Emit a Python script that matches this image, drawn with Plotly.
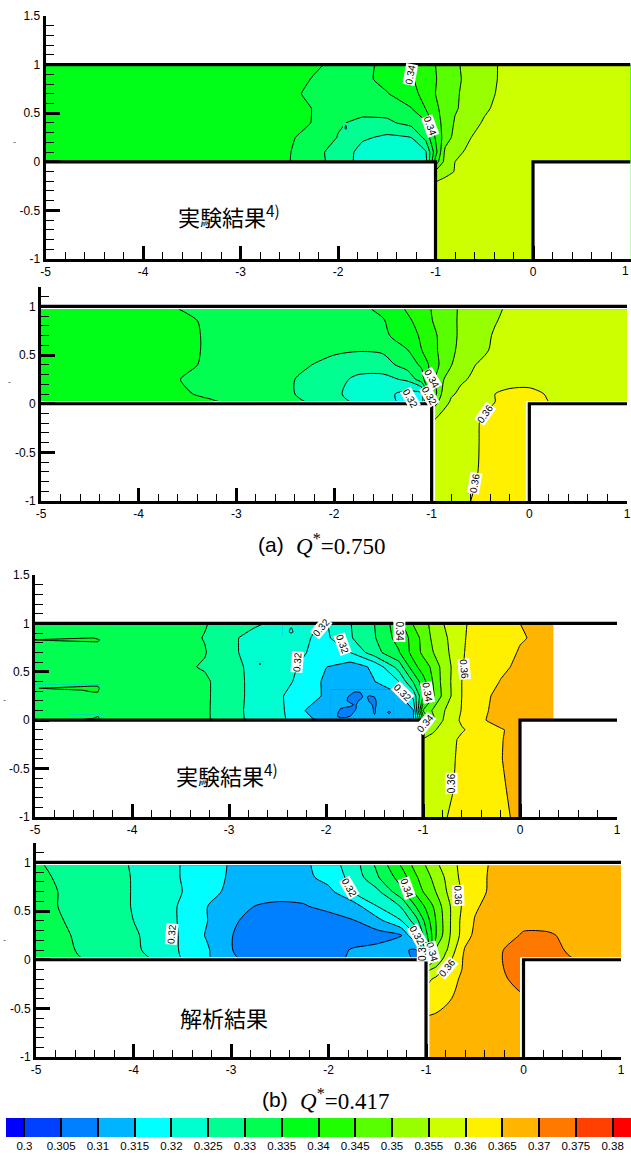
import plotly.graph_objects as go

W, H = 631, 1156

xs = [-5,-4,-3.75,-3.5,-3.25,-3,-2.75,-2.5,-2.25,-2,-1.75,-1.5,-1.25,-1.1,-1,-0.9,-0.8,-0.7,-0.6,-0.5,-0.35,-0.2,0,0.25,0.5,1]
ys = [1,0.85,0.7,0.55,0.4,0.25,0.1,0,-0.1,-0.2,-0.4,-0.7,-1]
ys_gap = [0.97,0.85,0.7,0.55,0.4,0.25,0.1,0.02,-0.1,-0.2,-0.4,-0.7,-1]

# values in thousandths of the plotted quantity
panel_a_exp = [
 [337,337,337,337,337,337,337,337,336,333.5,334,336,339.5,341.5,345,347,349,351,352,353,355.2,357,357.5,357.5,357.5,357.5],
 [337,337,337,337,337,337,337,337.5,334.6,334,333.8,336.5,339.5,342,344.8,346.5,348.7,350.7,352,353.3,355.2,357,357.5,357.5,357.5,357.5],
 [337,337,337,337,337,337,337,336.5,333.5,333.5,333.5,334.7,338,342,345,346.8,349.2,351,352.2,353.5,355.5,357,357.5,357.5,357.5,357.5],
 [337,337,337,337,337,337,337,337,334.8,332.5,331.5,332,334.8,340.2,344.2,346.6,349.5,351,352.2,354.3,356,357,357.5,357.5,357.5,357.5],
 [337,337,337,337,337,337,337,336.5,334.8,330.5,329,329,331.5,334.3,342.8,346.8,350.5,352,354,355.5,356.5,357,357.5,357.5,357.5,357.5],
 [337,337,337,337,337,337,336.5,335.5,333.5,329.8,325.8,324,325,331.5,340.5,347.5,351.5,354,355.5,356,356.5,357,357.5,357.5,357.5,357.5],
 [337,337,337,337,337,337,336.5,335.3,331,328.8,323,322.5,323,324.5,338,351.3,354,355.2,356,356.5,356.5,357,357.5,357.5,357.5,357.5],
 [337,337,337,337,337,337,336.5,335.2,331.5,328.5,323,322,322.5,323.5,342,352,355,355.5,356,356.5,356.5,357,357.5,357.5,357.5,357.5],
 [351,351,351,351,351,351,351,351,351,351,351,351,351,351,351,353.5,355.2,356,356.5,356.5,357,357,357.5,357.5,357.5,357.5],
 [354.8,354.8,354.8,354.8,354.8,354.8,354.8,354.8,354.8,354.8,354.8,354.8,354.8,354.8,354.8,356,356.5,357,357,357,357,357,357.5,357.5,357.5,357.5],
 [357,357,357,357,357,357,357,357,357,357,357,357,357,357,357,357,357,357,357,357,357,357,357,357,357,357],
 [357,357,357,357,357,357,357,357,357,357,357,357,357,357,357,357,357,357,357,357,357,357,357,357,357,357],
 [357,357,357,357,357,357,357,357,357,357,357,357,357,357,357,357,357,357,357,357,357,357,357,357,357,357],
]

panel_a_sim = [
 [338,336,335.6,334.7,334,334,333.5,333.5,333.5,333.5,333.8,336,340.5,342.5,345.2,347,349,350.6,352,353,354.4,355.6,356.5,357,357,357],
 [338,336.5,336,335.5,334.3,334,333.5,333.5,333.5,333.3,333.8,334.6,339,342,344.8,346.9,349,350.7,352,353.2,354.8,356,356.8,357,357,357],
 [338,337,336.5,335.8,334.3,334,333.5,333.5,333.3,333,333.2,334,337.5,340.8,344,345.8,348.8,350.8,352.2,353.8,355.4,356.5,357,357,357,357],
 [338,337,336.5,335.8,334.3,334,333.5,333,332.3,331,330.3,330.8,334.8,340,343.5,346,349.2,351,352.5,354,355.8,356.6,357,357,357,357],
 [338,337,336.5,335.5,334.3,334,333.5,332.5,330.2,328,327,327.5,332.5,335.8,342,346,349.8,352,354.5,355.5,356.2,356.8,357,357,357,357],
 [338,337,336,334.6,334.4,334,333.5,331,328.5,326.5,324,323.5,325.8,333,343,349,353,354.5,355.3,356,356.3,357.5,358,357.5,357,357],
 [338,337,336,335.2,334.3,334,333.5,331,328.5,326,323,321.5,318.5,318.5,340,350,354.5,355.8,357,358,360,361.5,361.5,359,358,357],
 [338,337,336.5,336,335.3,334.3,333.8,332.5,329.5,327,324,322,318.5,318.5,346,352,355.6,356.5,357.5,358.8,360,361,361.5,359.6,358,357],
 [352,352,352,352,352,352,352,352,352,352,352,352,352,352,352,355.3,356.5,357.3,358.4,359.7,361,361.5,361.5,361.5,361.5,361.5],
 [355.5,355.5,355.5,355.5,355.5,355.5,355.5,355.5,355.5,355.5,355.5,355.5,355.5,355.5,355.5,356.5,357,357.8,358.5,360.2,361,361.5,361.5,361.5,361.5,361.5],
 [357,357,357,357,357,357,357,357,357,357,357,357,357,357,357,357,357.5,358,358.8,360.2,361,361.5,361.5,361.5,361.5,361.5],
 [357,357,357,357,357,357,357,357,357,357,357,357,357,357,357,357,357.5,358,358.9,360.4,361,361.5,361.5,361.5,361.5,361.5],
 [357,357,357,357,357,357,357,357,357,357,357,357,357,357,357,357,357.5,358.5,360,360.7,361,361.5,361.5,361.5,361.5,361.5],
]

panel_b_exp = [
 [333,332.5,332.5,331.5,330.3,328,325.8,324,321,319.6,324.8,330,338,345.5,348.7,351,354.7,357,359.2,360.7,362,363.5,365,366,366,366],
 [333,332.5,332.5,331.5,329.8,326,323.5,322,320.6,319,324.5,329.6,337,341.5,347,350.8,353.7,356.2,359.3,361,362,363.5,364.6,366,366,366],
 [333,332.5,332.5,331.8,330.3,326,323.5,322,320.5,318,320,328,334.5,342,346,349.8,352.5,356.2,359.6,361,362,363,365.4,366,366,366],
 [333,332.5,332.5,331,329.5,326.8,323.8,322,319.5,315.1,312.5,316,327,338,342.5,346,351.5,355.4,359.8,361,362,364,366,366,366,366],
 [333,332.5,332.5,332,331,326.8,324,322,318.8,314,313.5,314.9,320,330.5,338,345,351.3,355.6,360,361.2,362.8,365.2,367,367,367,367],
 [333,332.5,332.5,332,331,326.8,324,321,317,314.5,312,312,314,321.5,335,344,350.8,355.5,360,361.5,364.5,366,367,367,367,367],
 [333,332.5,332.5,332,331,326.5,324,321.8,315.5,312,312,312,313.5,314.7,345,350.5,354.5,356.5,360.3,361.8,364.7,366.5,367,367,367,367],
 [333,333,332.5,332,331,326.8,324,321.5,317.3,313,312,312,313,314.7,335,348.5,354.8,358,360.8,362,365,367,367.5,367,367,367],
 [350,350,350,350,350,350,350,350,350,350,350,350,350,350,350,354.2,356.5,358,359.5,361,362,364.5,367,367,367,367],
 [355.5,355.5,355.5,355.5,355.5,355.5,355.5,355.5,355.5,355.5,355.5,355.5,355.5,355.5,355.5,356.5,357.5,359,361,362,363.2,364.7,367,367,367,367],
 [356.5,356.5,356.5,356.5,356.5,356.5,356.5,356.5,356.5,356.5,356.5,356.5,356.5,356.5,356.5,357,358,359.5,361,362,363.2,364.8,367,367,367,367],
 [356.5,356.5,356.5,356.5,356.5,356.5,356.5,356.5,356.5,356.5,356.5,356.5,356.5,356.5,356.5,357.5,358.5,359.8,361,362,363,364.2,367,367,367,367],
 [357,357,357,357,357,357,357,357,357,357,357,357,357,357,357,358,359.5,360.5,361,361.7,362.5,364,366,366,366,366],
]

panel_b_sim = [
 [330.5,324.7,323,319.7,317,314.6,313,312.6,314,317.6,322.4,331,340.5,347,350.2,354,356.8,359.7,361.2,362.8,365.2,367,368,368,368,368],
 [331,324.8,323,319.7,317.4,314.3,313,312.5,313.5,317,321.5,329.5,337.5,344.5,348.3,351.8,355.5,359.5,361,363,365.4,367,368,368,368,368],
 [331.5,324.8,323,320,316.8,313.8,312.5,311.5,311.5,313.5,320,323.8,333.8,341.5,346.5,350,354.5,358.6,361,363,365.5,367,368,368,368,368],
 [331.5,324.8,323,319.2,315.1,312.8,309.9,309.3,309.7,311.3,312.5,320,325.5,335.5,341,346.5,352.5,357.5,361.5,364.5,366,367,368,368,368,368],
 [332,325,323,319.2,315.2,310.5,309,308.3,307.5,308,309.7,313.3,320,328,337,345,352,357.8,362.5,365.2,366.5,367.5,368.5,368.5,368,368],
 [332.5,325.5,323.5,319.3,314.6,310.2,307.5,306.5,306.5,306.5,307,308,310,321,333.5,344.5,352.5,357.8,363,366,367,368,370.6,370.5,369,368],
 [333,325.5,324,319.3,315.7,310.2,307.5,306.5,306.5,307.5,310.5,311.5,310.3,309.7,327,350.5,354,360,365.5,367,368.5,370.1,371.5,371,369.5,368],
 [333.5,326,324.5,319.6,315.8,311,307.5,306.5,307,308,311,312.5,311,309.5,336,349,356.5,361.5,366,367,368.5,370.2,372,372,370,368],
 [353.5,353.5,353.5,353.5,353.5,353.5,353.5,353.5,353.5,353.5,353.5,353.5,353.5,353.5,353.5,356.5,360.6,363.5,365.7,366.5,368,370,372,372,372,372],
 [358.5,358.5,358.5,358.5,358.5,358.5,358.5,358.5,358.5,358.5,358.5,358.5,358.5,358.5,358.5,361,362.5,364.6,365.8,366.8,368.2,369.6,371.5,371.5,371.5,371.5],
 [362.8,362.8,362.8,362.8,362.8,362.8,362.8,362.8,362.8,362.8,362.8,362.8,362.8,362.8,362.8,363.5,364.5,365.3,366,366.5,367.5,368.5,369.5,369.5,369.5,369.5],
 [366.5,366.5,366.5,366.5,366.5,366.5,366.5,366.5,366.5,366.5,366.5,366.5,366.5,366.5,366.5,366.5,366.5,366.5,366.5,367,367,367.5,368,368,368,368],
 [367,367,367,367,367,367,367,367,367,367,367,367,367,367,367,367,367,367,367,367,367,367,367,367,367,367],
]

# small local features: (x list, y list, rows in thousandths)
detail_a_bar = ([-1.95,-1.92,-1.89], [0.31,0.34,0.37,0.4],
                [[328,328,328],[328,330.5,328],[328,330.5,328],[328,328,328]])
detail_b_sliver1 = ([-5,-4.4,-4.35,-4.3], [0.79,0.81,0.83,0.85,0.87],
                    [[333,333,333,333],[333,335,335,333],[335.2,336,336,333],[333,335,333,333],[333,333,333,333]])
detail_b_sliver2 = ([-5,-4.96,-4.4,-4.35,-4.32], [0.27,0.29,0.31,0.33,0.35,0.37],
                    [[333,333,333,333,333],[333,333,335,335,333],[333,333,335.5,335.5,333],[333,335,336.5,336.5,333],
                     [333,333,335.2,335,333],[333,333,333,333,333]])
detail_b_sliver3 = ([-4.65,-4.57,-4.35,-4.3], [0,0.02,0.04,0.06],
                    [[333,335,336,333],[333,333,335.5,333],[333,333,335,333],[333,333,333,333]])
detail_b_triangle = ([-2.45,-2.4,-2.36,-2.32,-2.28], [0.88,0.91,0.95,0.98],
                     [[322,322,322,322,322],[322,321,319,321,322],[322,322,319.5,322,322],[322,322,322,322,322]])
detail_b_dot = ([-2.72,-2.68,-2.64], [0.55,0.58,0.61],
                [[323,323,323],[323,325.5,323],[323,323,323]])
detail_b_core = ([-1.95,-1.9,-1.85,-1.8,-1.75,-1.7,-1.65,-1.6,-1.55,-1.5,-1.45,-1.4,-1.35,-1.3],
                 [0,0.04,0.08,0.12,0.16,0.2,0.24,0.28,0.32],
                 [[312,312,312,312,312,312,312,312,312,312,312,312,312,312],
                  [312,310.5,309,309,310,312,312,312,312,310.5,312,312,312,312],
                  [312,311,309,308.5,309,310.5,312,312,312,309.5,312,312,309,312],
                  [312,312,310,309,309,309.5,312,312,311.5,309.5,312,312,312,312],
                  [312,312,312,312,311,309.5,311.5,312,311,309,312,312,312,312],
                  [312,312,312,310.5,309,309,310.5,312,309.5,309,312,312,312,312],
                  [312,312,312,311,309,308.5,308.5,311,309,310,312,312,312,312],
                  [312,312,312,312,311,309,309.5,312,312,312,312,312,312,312],
                  [312,312,312,312,312,312,312,312,312,312,312,312,312,312]])

band_colors = ["#0000ff","#0040ff","#0080ff","#00b4ff","#00ffff","#00ffd0","#00ff90","#00ff50",
               "#00ff18","#20ff00","#58ff00","#98ff00","#ccff00","#fff000","#ffb400","#ff7800","#ff4000","#ff0000"]
legend_levels = [0.3,0.305,0.31,0.315,0.32,0.325,0.33,0.335,0.34,0.345,0.35,0.355,0.36,0.365,0.37,0.375,0.38]
legend_labels = ["0.3","0.305","0.31","0.315","0.32","0.325","0.33","0.335","0.34","0.345","0.35","0.355","0.36","0.365","0.37","0.375","0.38"]
legend_edges = [0.2975,0.3,0.305,0.31,0.315,0.32,0.325,0.33,0.335,0.34,0.345,0.35,0.355,0.36,0.365,0.37,0.375,0.38,0.3825]
legend_values = [0.2975,0.3025,0.3075,0.3125,0.3175,0.3225,0.3275,0.3325,0.3375,0.3425,0.3475,0.3525,0.3575,0.3625,0.3675,0.3725,0.3775,0.3825]

x_ticks = [-5,-4,-3,-2,-1,0,1]
x_text = ["-5","-4","-3","-2","-1","0","1"]
y_ticks = [-1,-0.5,0,0.5,1,1.5]
y_text = ["-1","-0.5","0","0.5","1","1.5"]
x_minor = [-4.8,-4.6,-4.4,-4.2,-3.8,-3.6,-3.4,-3.2,-2.8,-2.6,-2.4,-2.2,-1.8,-1.6,-1.4,-1.2,-0.8,-0.6,-0.4,-0.2,0.2,0.4,0.6,0.8]
y_minor = [-0.9,-0.8,-0.7,-0.6,-0.4,-0.3,-0.2,-0.1,0.1,0.2,0.3,0.4,0.6,0.7,0.8,0.9,1.1,1.2,1.3,1.4]

n = len(band_colors)
scale = []
for i, c in enumerate(band_colors):
    scale += [[i / n, c], [(i + 1) / n, c]]
ZMIN, ZMAX = 0.295, 0.385

FONT = "Liberation Sans"
CJK = "Noto Sans CJK JP"

panels = [
 dict(z=panel_a_exp, y=ys,     left=45.5, right=630.5, ytop=16,  vtop=1.5, ybot=259, smooth=0.3,
      details=[detail_a_bar],
      mask=[[-5,-1,-1,-5,-5],[0,1,1,0,0]], masky=[[0,0,-1,-1,0],[0,0,-1,-1,0]],
      labels=[("0.34",-1.26,0.9,-80),("0.34",-1.06,0.37,70)]),
 dict(z=panel_a_sim, y=ys_gap, left=41,   right=627,   ytop=287, vtop=1.2, ybot=501, smooth=0.8,
      details=[],
      mask=[[-5,-0.97,-0.97,-5,-5],[-0.03,1,1,-0.03,-0.03]], masky=[[0.02,0.02,-1,-1,0.02],[0.02,0.02,-1,-1,0.02]],
      labels=[("0.34",-1.0,0.26,60),("0.32",-1.03,0.08,60),("0.32",-1.22,0.05,60),("0.36",-0.45,-0.1,-55),("0.36",-0.56,-0.82,-80)]),
 dict(z=panel_b_exp, y=ys,     left=35,   right=617,   ytop=575, vtop=1.5, ybot=817, smooth=0.2,
      details=[detail_b_sliver1, detail_b_sliver2, detail_b_sliver3, detail_b_triangle, detail_b_dot, detail_b_core],
      mask=[[-5,-1,-1,-5,-5],[0,1,1,0,0],[0.35,1,1,0.35,0.35]], masky=[[0,0,-1,-1,0],[0,0,-1,-1,0],[1,1,0,0,1]],
      labels=[("0.32",-2.05,0.96,-50),("0.34",-1.24,0.92,90),("0.32",-1.83,0.78,70),("0.32",-2.3,0.6,-85),("0.32",-1.21,0.29,45),
              ("0.34",-0.95,0.29,80),("0.34",-0.98,-0.03,-50),("0.36",-0.58,0.53,85),("0.36",-0.71,-0.65,-90)]),
 dict(z=panel_b_sim, y=ys_gap, left=36,   right=621,   ytop=843, vtop=1.2, ybot=1057, smooth=0.8,
      details=[],
      mask=[[-5,-0.97,-0.97,-5,-5],[-0.03,1,1,-0.03,-0.03]], masky=[[0.02,0.02,-1,-1,0.02],[0.02,0.02,-1,-1,0.02]],
      labels=[("0.32",-3.61,0.26,-85),("0.32",-1.79,0.74,60),("0.34",-1.2,0.74,70),("0.36",-0.67,0.66,88),("0.32",-1.09,0.25,60),
              ("0.34",-0.94,0.08,75),("0.3",-1.03,0.06,-90),("0.36",-0.78,-0.08,-50)]),
]

# channel outline: walls of the T-shaped domain
wall_x = [-5, 1, None, -5, -1, -1, None, 0, 0, 1]
wall_y = [1, 1, None, 0, 0, -1, None, -1, 0, 0]

fig = go.Figure()
annotations = []
layout = {}


def contour(x, y, z, xa, ya, smooth):
    return go.Contour(
        x=x, y=y, z=[[v / 1000 for v in row] for row in z],
        xaxis=xa, yaxis=ya, autocontour=False, zmin=ZMIN, zmax=ZMAX, colorscale=scale, showscale=False,
        contours=dict(start=0.3, end=0.38, size=0.005, coloring="fill", showlines=True),
        line=dict(color="black", width=1, smoothing=smooth), hoverinfo="skip")


for i, p in enumerate(panels, start=1):
    xa, ya = f"x{i}", f"y{i}"
    fig.add_trace(contour(xs, p["y"], p["z"], xa, ya, p["smooth"]))
    for dx, dy, dz in p["details"]:
        fig.add_trace(contour(dx, dy, dz, xa, ya, 0))
    mx, my = [], []
    for a, b in zip(p["mask"], p["masky"]):
        mx += a + [None]
        my += b + [None]
    fig.add_trace(go.Scatter(x=mx, y=my, xaxis=xa, yaxis=ya, mode="lines", fill="toself", fillcolor="white",
                             line=dict(width=1, color="white"), hoverinfo="skip", showlegend=False))
    fig.add_trace(go.Scatter(x=wall_x, y=wall_y, xaxis=xa, yaxis=ya, mode="lines",
                             line=dict(color="black", width=3.2), cliponaxis=False, hoverinfo="skip", showlegend=False))
    yt = [v for v in y_ticks if v <= p["vtop"]]
    yl = [t for v, t in zip(y_ticks, y_text) if v <= p["vtop"]]
    ym = [v for v in y_minor if v <= p["vtop"]]
    layout[f"xaxis{i}"] = dict(
        domain=[p["left"] / W, p["right"] / W], anchor=ya, range=[-5, 1], showgrid=False, zeroline=False,
        showline=True, linecolor="black", linewidth=3, ticks="inside", ticklen=13, tickwidth=3, tickcolor="black",
        tickmode="array", tickvals=x_ticks if i > 1 else x_ticks[:-1], ticktext=x_text if i > 1 else x_text[:-1],
        tickfont=dict(family=FONT, size=12, color="black"),
        minor=dict(tickmode="array", tickvals=x_minor, ticks="inside", ticklen=7, tickwidth=1, tickcolor="black"))
    layout[f"yaxis{i}"] = dict(
        domain=[1 - p["ybot"] / H, 1 - p["ytop"] / H], anchor=xa, range=[-1, p["vtop"]], showgrid=False, zeroline=False,
        showline=True, linecolor="black", linewidth=3, ticks="inside", ticklen=14, tickwidth=3, tickcolor="black",
        tickmode="array", tickvals=yt, ticktext=yl, tickfont=dict(family=FONT, size=12, color="black"),
        minor=dict(tickmode="array", tickvals=ym, ticks="inside", ticklen=8, tickwidth=1, tickcolor="black"))
    for text, x, y, ang in p["labels"]:
        annotations.append(dict(text=text, x=x, y=y, xref=xa, yref=ya, showarrow=False, textangle=ang,
                                font=dict(family=FONT, size=10, color="black"), bgcolor="white", borderpad=0))

# legend strip
fig.add_trace(go.Heatmap(x=legend_edges, y=[0, 1], z=[legend_values], xaxis="x5", yaxis="y5", zmin=ZMIN, zmax=ZMAX,
                         colorscale=scale, showscale=False, hoverinfo="skip"))
layout["xaxis5"] = dict(domain=[6 / W, 631 / W], anchor="y5", range=[0.2975, 0.3825], showgrid=False, zeroline=False,
                        showline=False, ticks="inside", ticklen=19, tickwidth=1.5, tickcolor="black",
                        tickmode="array", tickvals=legend_levels, ticktext=legend_labels,
                        tickfont=dict(family=FONT, size=11.5, color="black"))
layout["yaxis5"] = dict(domain=[1 - 1137 / H, 1 - 1118 / H], anchor="x5", range=[0, 1], visible=False)


def paper(text, px, py, font, size, color="black", **kw):
    annotations.append(dict(text=text, x=px / W, y=1 - py / H, xref="paper", yref="paper", showarrow=False,
                            xanchor="center", yanchor="middle", font=dict(family=font, size=size, color=color), **kw))


paper("実験結果<sup>4)</sup>", 229, 215, CJK, 22)
paper("実験結果<sup>4)</sup>", 227, 774, CJK, 22)
paper("解析結果", 224, 1017, CJK, 22)
paper("(a)", 271, 544, FONT, 21)
paper("<i>Q</i><sup>*</sup>=0.750", 340, 544, "Liberation Serif", 23)
paper("(b)", 275, 1099, FONT, 21)
paper("<i>Q</i><sup>*</sup>=0.417", 344, 1099, "Liberation Serif", 23)
paper("1", 625, 271, FONT, 12)
paper("-", 14, 142, FONT, 9, "#555555")
paper("-", 9, 382, FONT, 9, "#555555")
paper("-", 4, 700, FONT, 9, "#555555")
paper("-", 4, 940, FONT, 9, "#555555")

fig.update_layout(width=W, height=H, margin=dict(l=0, r=0, t=0, b=0, autoexpand=False), paper_bgcolor="white", plot_bgcolor="white",
                  showlegend=False, annotations=annotations, **layout)
fig.write_html("out.html", config=dict(displayModeBar=False),
               post_script="document.body.style.margin='0';document.body.style.overflow='hidden';")
